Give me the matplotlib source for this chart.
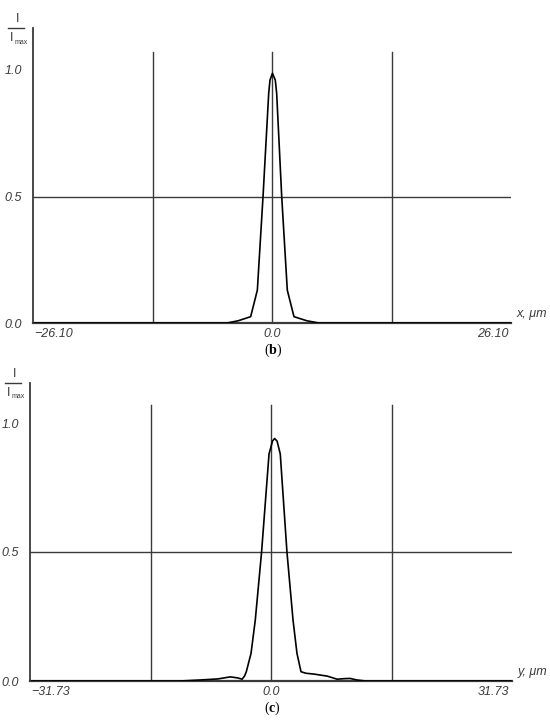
import matplotlib
matplotlib.use("Agg")
import matplotlib.pyplot as plt
from matplotlib.lines import Line2D

plt.rcParams["mathtext.fontset"] = "custom"
plt.rcParams["mathtext.rm"] = "Liberation Serif"
plt.rcParams["mathtext.bf"] = "Liberation Serif:bold"

# panel (b): intensity profile along x
x_b = [-26.10, -6.0, -4.9, -3.68, -2.33, -1.6, -0.98, -0.36, -0.22, 0.05,
       0.36, 0.51, 1.06, 1.67, 2.40, 3.79, 5.1, 6.0, 26.10]
y_b = [0.0, 0.0, 0.0, 0.009, 0.025, 0.13, 0.50, 0.908, 0.96, 0.987,
       0.96, 0.908, 0.50, 0.13, 0.025, 0.009, 0.0, 0.0, 0.0]
lim_b = 26.10

# panel (c): intensity profile along y
x_c = [-31.73, -12.0, -9.3, -7.0, -5.36, -4.4, -3.8, -3.47, -3.25, -2.63,
       -2.07, -1.24, -0.26, 0.2, 0.47, 0.8, 1.22, 2.1, 2.9, 3.42,
       3.95, 4.6, 5.6, 7.4, 8.7, 9.6, 10.4, 11.3, 12.5, 31.73]
y_c = [0.0, 0.0, 0.004, 0.008, 0.016, 0.012, 0.007, 0.02, 0.036, 0.107,
       0.236, 0.50, 0.88, 0.93, 0.94, 0.93, 0.88, 0.50, 0.236, 0.107,
       0.036, 0.03, 0.027, 0.019, 0.007, 0.009, 0.01, 0.004, 0.0, 0.0]
lim_c = 31.73

W, H = 550, 722
GREY = "#3a3a3a"
FAMILY = ["Liberation Sans", "DejaVu Sans"]
FONT = dict(family=FAMILY, style="italic", color=GREY, fontsize=9)

fig = plt.figure(figsize=(W / 100, H / 100), dpi=100)


def fx(px):
    return px / W


def fy(py):
    return 1 - py / H


def panel(x, y, lim, left, right, top, bottom, unit_px, axis_name, tag):
    ymax = (bottom - top) / unit_px
    ax = fig.add_axes([fx(left), fy(bottom), fx(right - left), (bottom - top) / H])
    ax.set_xlim(-lim, lim)
    ax.set_ylim(0, ymax)
    for s in ["top", "right", "bottom"]:
        ax.spines[s].set_visible(False)
    ax.spines["left"].set_color(GREY)
    ax.spines["left"].set_linewidth(1.3)
    ax.axhline(0, color=GREY, lw=1.6, clip_on=False)
    ax.axhline(0.5, color=GREY, lw=1.0)
    for xv in [-lim / 2, 0, lim / 2]:
        ax.plot([xv, xv], [0, 1.07], color=GREY, lw=1.0)
    ax.plot(x, y, color="black", lw=1.2)

    ax.set_xticks([])
    ax.set_yticks([0, 0.5, 1.0])
    ax.set_yticklabels(["0.0", "0.5", "1.0"], **FONT)
    ax.tick_params(axis="y", length=0, pad=8)

    ax.text(-lim * 0.995, -0.02, f"\u2212{lim:.2f}", ha="left", va="top", **FONT)
    ax.text(0, -0.02, "0.0", ha="center", va="top", **FONT)
    ax.text(lim * 0.99, -0.02, f"{lim:.2f}", ha="right", va="top", **FONT)
    ax.text(lim * 1.025, 0.01, f"{axis_name}, \u03bcm", ha="left", va="bottom", **FONT)

    # I / I_max label
    cx = left - 17
    up = dict(family=FAMILY, color=GREY)
    fig.text(fx(cx + 2), fy(top - 9), "I", ha="center", va="center", fontsize=9, **up)
    fig.add_artist(Line2D([fx(cx - 8), fx(cx + 8)], [fy(top), fy(top)],
                          color=GREY, lw=1.0))
    fig.text(fx(cx - 4), fy(top + 10), "I", ha="center", va="center", fontsize=9, **up)
    fig.text(fx(cx - 1), fy(top + 14), "max", ha="left", va="center",
             fontsize=5, **up)

    fig.text(fx((left + right) / 2 + 1), fy(bottom + 27),
             rf"$\mathrm{{(}}\mathbf{{{tag}}}\mathrm{{)}}$",
             ha="center", va="center", fontsize=10, color="black")


panel(x_b, y_b, lim_b, 33, 511, 28, 323, 253, "x", "b")
panel(x_c, y_c, lim_c, 30, 512, 383, 681, 258, "y", "c")

fig.savefig("out.png", dpi=100)
